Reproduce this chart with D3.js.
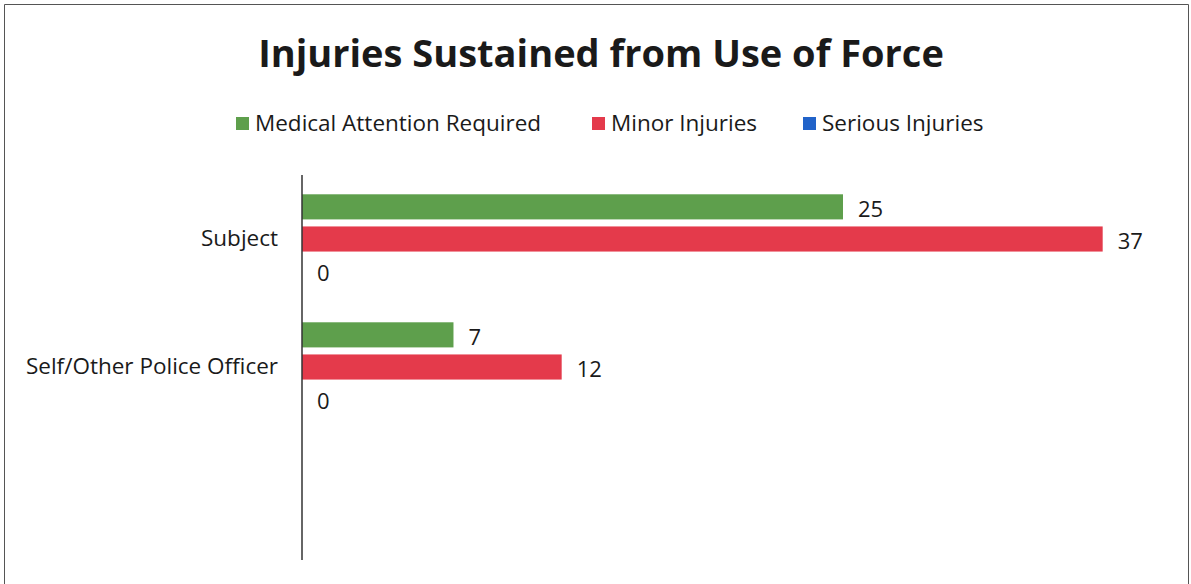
<!DOCTYPE html>
<html>
<head>
<meta charset="utf-8">
<script src="https://cdn.jsdelivr.net/npm/d3@7"></script>
<style>
  html, body { margin: 0; padding: 0; background: #fff; }
  svg { display: block; font-family: "Open Sans", Lato, sans-serif; }
</style>
</head>
<body>
<svg id="chart" width="1191" height="584"></svg>
<script>
const title = "Injuries Sustained from Use of Force";
const categories = ["Subject", "Self/Other Police Officer"];
const seriesNames = ["Medical Attention Required", "Minor Injuries", "Serious Injuries"];
const medicalAttention = [25, 7];
const minorInjuries = [37, 12];
const seriousInjuries = [0, 0];
const seriesColors = ["#5e9f4c", "#e43a4b", "#2163c9"];

const seriesValues = [medicalAttention, minorInjuries, seriousInjuries];

const svg = d3.select("#chart");

// frame
svg.append("path")
  .attr("d", "M4.5,590 V4.5 H1188.5 V590")
  .attr("fill", "none").attr("stroke", "#555").attr("stroke-width", 1);

// title
svg.append("text")
  .attr("x", 601).attr("y", 67)
  .attr("text-anchor", "middle")
  .attr("font-size", 38).attr("font-weight", "bold").attr("fill", "#1a1a1a")
  .text(title);

// legend
const legendX = [236, 592, 803];
const legend = svg.append("g");
seriesNames.forEach((name, i) => {
  legend.append("rect")
    .attr("x", legendX[i]).attr("y", 117).attr("width", 13).attr("height", 13)
    .attr("fill", seriesColors[i]);
  legend.append("text")
    .attr("x", legendX[i] + 19).attr("y", 131)
    .attr("font-size", 22.5).attr("fill", "#1a1a1a")
    .text(name);
});

// scales
const x = d3.scaleLinear().domain([0, 40]).range([302, 302 + 40 * 21.64]);
const y = d3.scaleBand().domain(categories).range([175, 175 + 128 * categories.length]);
const ySub = d3.scaleBand().domain(d3.range(seriesNames.length))
  .range([0, y.bandwidth()]).paddingInner(0.219).paddingOuter(0.6);

// bars
const groups = svg.append("g").selectAll("g")
  .data(categories).join("g")
  .attr("transform", c => `translate(0,${y(c)})`);

groups.each(function(c, ci) {
  const g = d3.select(this);
  seriesValues.forEach((vals, si) => {
    const v = vals[ci];
    g.append("rect")
      .attr("x", x(0)).attr("y", ySub(si))
      .attr("width", x(v) - x(0)).attr("height", ySub.bandwidth())
      .attr("fill", seriesColors[si]);
    g.append("text")
      .attr("x", x(v) + 15).attr("y", ySub(si) + ySub.bandwidth() / 2)
      .attr("dy", "0.46em")
      .attr("font-size", 22).attr("fill", "#1a1a1a")
      .text(v);
  });
});

// category axis
const axis = d3.axisLeft(y).tickSize(0).tickPadding(24);
const axG = svg.append("g").attr("transform", `translate(${x(0)},0)`).call(axis);
axG.select(".domain").remove();
axG.selectAll("text").attr("font-size", 22.5).attr("fill", "#1a1a1a")
  .attr("font-family", "'Open Sans', Lato, sans-serif");
svg.append("line")
  .attr("x1", x(0)).attr("x2", x(0)).attr("y1", 175).attr("y2", 560)
  .attr("stroke", "#333").attr("stroke-width", 1.5);
</script>
</body>
</html>
